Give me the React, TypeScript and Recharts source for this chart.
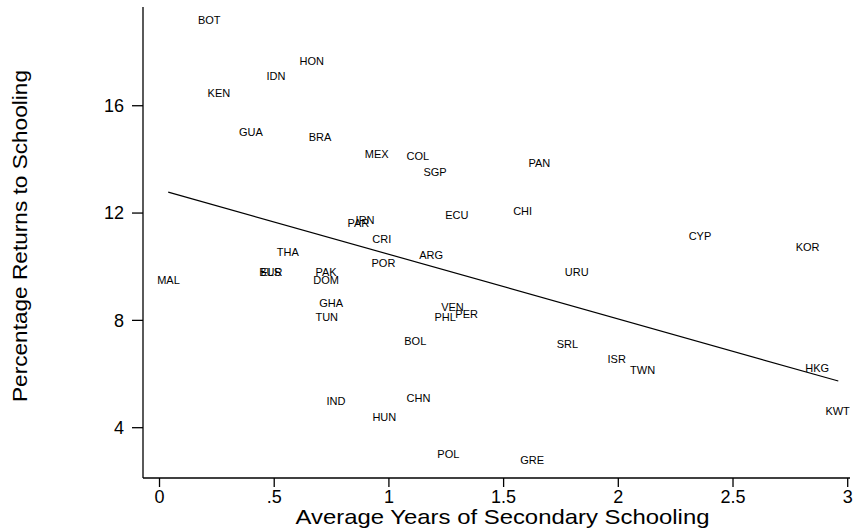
import React from 'react';
import { ScatterChart, Scatter, XAxis, YAxis, Label } from 'recharts';

const countries = [
  'BOT', 'HON', 'IDN', 'KEN', 'GUA', 'BRA', 'MEX', 'COL', 'SGP', 'PAN',
  'CHI', 'ECU', 'IRN', 'PAR', 'CRI', 'THA', 'ARG', 'POR', 'ELS', 'BUR',
  'PAK', 'DOM', 'MAL', 'URU', 'CYP', 'KOR', 'GHA', 'TUN', 'VEN', 'PHL',
  'PER', 'BOL', 'SRL', 'ISR', 'TWN', 'HKG', 'KWT', 'IND', 'CHN', 'HUN',
  'POL', 'GRE',
];

const schoolingYears = [
  0.217, 0.664, 0.508, 0.259, 0.398, 0.7, 0.947, 1.126, 1.201, 1.656,
  1.583, 1.296, 0.896, 0.867, 0.969, 0.559, 1.184, 0.976, 0.485, 0.485,
  0.726, 0.726, 0.039, 1.819, 2.356, 2.825, 0.748, 0.729, 1.277, 1.245,
  1.339, 1.115, 1.778, 1.993, 2.106, 2.867, 2.956, 0.769, 1.129, 0.98,
  1.259, 1.624,
];

const returnsPct = [
  19.19, 17.68, 17.1, 16.47, 15.02, 14.83, 14.21, 14.14, 13.52, 13.85,
  12.09, 11.93, 11.74, 11.64, 11.02, 10.54, 10.42, 10.13, 9.8, 9.8,
  9.81, 9.51, 9.5, 9.81, 11.14, 10.72, 8.63, 8.14, 8.51, 8.14,
  8.23, 7.23, 7.12, 6.55, 6.15, 6.23, 4.62, 5.0, 5.09, 4.41,
  3.01, 2.81,
];

// fitted regression line end points
const fitYears = [0.038, 2.959];
const fitReturns = [12.78, 5.74];

const xTicks = [0, 0.5, 1, 1.5, 2, 2.5, 3];
const xTickLabels = ['0', '.5', '1', '1.5', '2', '2.5', '3'];
const yTicks = [4, 8, 12, 16];

const FONT = '"Liberation Sans", Arial, Helvetica, sans-serif';

const points = countries.map((name, i) => ({
  name,
  x: schoolingYears[i],
  y: returnsPct[i],
}));

const fitLine = fitYears.map((x, i) => ({ x, y: fitReturns[i] }));

const CountryLabel = (props: any) => {
  const { cx, cy, payload } = props;
  return (
    <text
      x={cx}
      y={cy}
      textAnchor="middle"
      dominantBaseline="central"
      fontSize={11}
      fontFamily={FONT}
      fill="#000"
    >
      {payload.name}
    </text>
  );
};

const XTitle = (props: any) => {
  const { viewBox } = props;
  return (
    <text
      x={viewBox.x + viewBox.width / 2 + 6}
      y={524}
      textAnchor="middle"
      fontSize={21}
      fontFamily={FONT}
      textLength={414}
      lengthAdjust="spacingAndGlyphs"
      fill="#000"
    >
      Average Years of Secondary Schooling
    </text>
  );
};

const YTitle = (props: any) => {
  return (
    <text
      x={0}
      y={0}
      transform="translate(27, 236) rotate(-90)"
      textAnchor="middle"
      fontSize={21}
      fontFamily={FONT}
      textLength={332}
      lengthAdjust="spacingAndGlyphs"
      fill="#000"
    >
      Percentage Returns to Schooling
    </text>
  );
};

export default function App() {
  return (
    <div style={{ position: 'absolute', left: 0, top: 0, background: '#fff' }}>
      <ScatterChart width={858} height={531} margin={{ top: 7, right: 8, bottom: 0, left: 0 }}>
        <XAxis
          type="number"
          dataKey="x"
          domain={[-0.072, 3.01]}
          ticks={xTicks}
          tickFormatter={(v: number) => xTickLabels[xTicks.indexOf(v)] ?? String(v)}
          allowDataOverflow
          height={53}
          tickSize={9}
          tickMargin={3}
          axisLine={{ stroke: '#000', strokeWidth: 1.3 }}
          tickLine={{ stroke: '#000', strokeWidth: 1.3 }}
          tick={{ fill: '#000', fontSize: 18, fontFamily: FONT }}
        >
          <Label content={<XTitle />} />
        </XAxis>
        <YAxis
          type="number"
          dataKey="y"
          domain={[2.125, 19.68]}
          ticks={yTicks}
          allowDataOverflow
          width={143}
          tickSize={11}
          tickMargin={8}
          axisLine={{ stroke: '#000', strokeWidth: 1.3 }}
          tickLine={{ stroke: '#000', strokeWidth: 1.3 }}
          tick={{ fill: '#000', fontSize: 18, fontFamily: FONT }}
        >
          <Label content={<YTitle />} />
        </YAxis>
        <Scatter
          data={fitLine}
          line={{ stroke: '#000', strokeWidth: 1.2 }}
          lineType="joint"
          shape={() => <g />}
          isAnimationActive={false}
        />
        <Scatter data={points} shape={<CountryLabel />} isAnimationActive={false} />
      </ScatterChart>
    </div>
  );
}
